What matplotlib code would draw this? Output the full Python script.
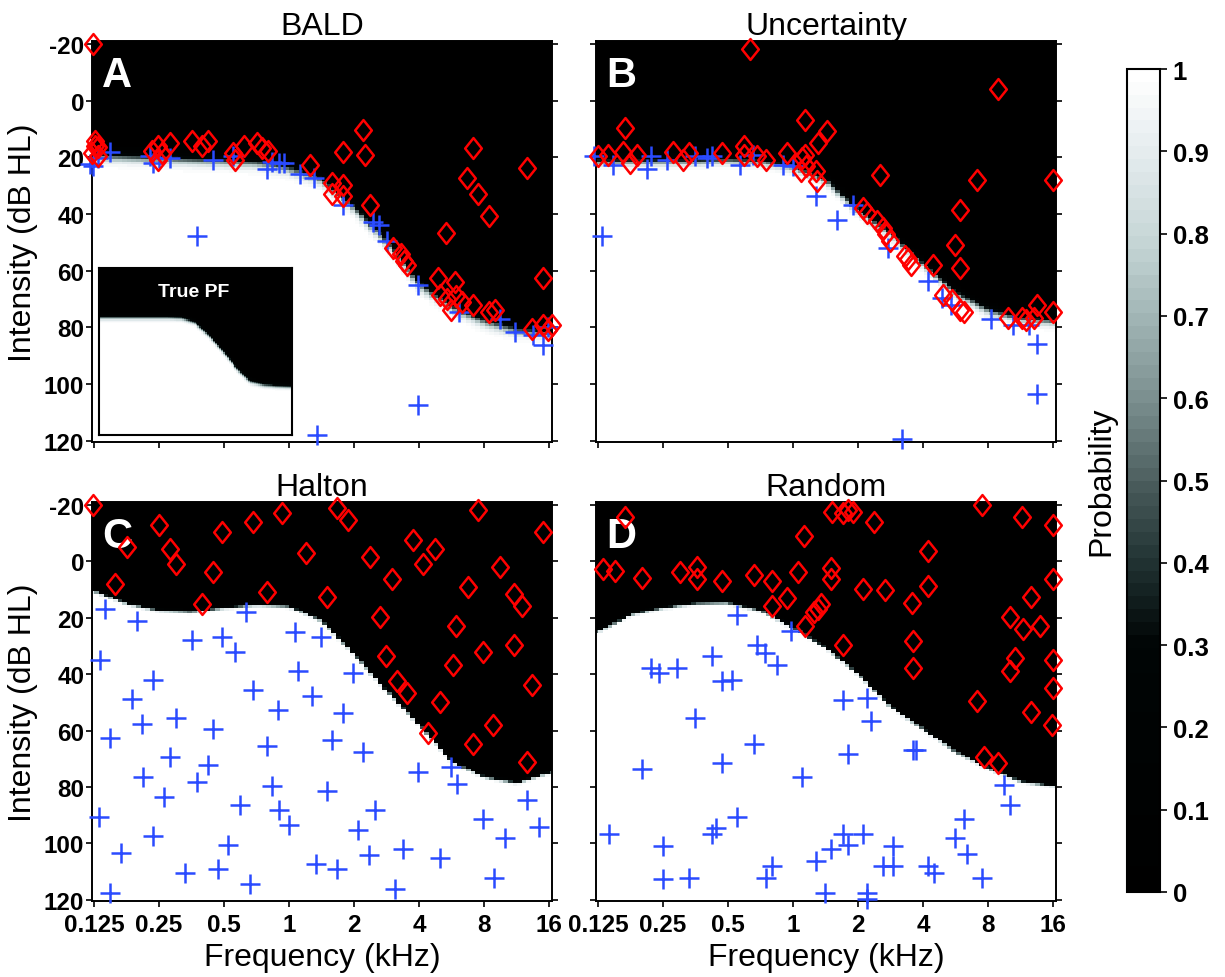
import numpy as np
import matplotlib
matplotlib.use("Agg")
import matplotlib.pyplot as plt
from matplotlib.colors import LinearSegmentedColormap, ListedColormap, Normalize
from matplotlib.path import Path

plt.rcParams['font.family'] = ['Liberation Sans', 'DejaVu Sans']
plt.rcParams['axes.unicode_minus'] = False

# ---------------- data ----------------
# threshold of the probability surface at half-octave knots (kHz -> dB HL)
knot_khz = [0.125, 0.177, 0.25, 0.354, 0.5, 0.707, 1, 1.41, 2, 2.83, 4, 5.66, 8, 11.3, 16]
thr_true = [21, 21, 21, 21, 21, 21, 21.5, 25.5, 36, 49.5, 63.5, 75, 78, 79, 79.5]
thr_bald = [19.5, 20, 20.5, 21, 21.5, 22, 24, 28, 38, 50, 65, 73, 78, 81, 82]
thr_unc = [21.5, 21.5, 21.5, 21.5, 21, 21.5, 23.5, 28, 39, 47, 58, 68, 74, 77, 78]
thr_halton = [10.5, 15, 17.5, 18, 16.5, 15.5, 16, 21, 33, 46, 58, 71, 76.5, 78.5, 75]
thr_random = [25, 19, 16.5, 15, 14.8, 17.5, 23.5, 30.5, 40, 51.5, 59.5, 67.5, 73.5, 78, 79.6]

# tested tones: heard (+) and not heard (diamond), (kHz, dB HL)
bald_heard = [(0.124, 23), (0.12, 22.5), (0.13, 20.4), (0.148, 18), (0.227, 19.6), (0.235, 22),
              (0.25, 20.4), (0.28, 20.4), (0.445, 21), (0.55, 19.6), (0.375, 47.7), (0.79, 24),
              (0.83, 21.5), (0.9, 22), (0.95, 22), (1.12, 26), (1.3, 27.4), (1.78, 36.8),
              (2.45, 43), (2.6, 44), (2.85, 49.5), (3.94, 65), (3.94, 107.4), (1.35, 118),
              (6.1, 74.7), (9.5, 77), (11.1, 81.7), (15, 86.3), (13.4, 82.5), (15.8, 80)]
bald_missed = [(0.124, -20), (0.127, 14.4), (0.131, 16.5), (0.122, 18.6), (0.13, 19.6), (0.126, 16.1),
               (0.231, 17.9), (0.248, 16.1), (0.258, 18.6), (0.248, 21), (0.281, 15.1), (0.356, 14.4),
               (0.395, 16.1), (0.42, 14.4), (0.55, 18.6), (0.56, 21), (0.62, 16.1), (0.71, 15),
               (0.75, 16.8), (0.8, 17.9), (1.25, 22.8), (1.58, 29), (1.78, 29.8), (1.58, 33),
               (1.78, 33.7), (1.78, 18), (2.2, 10.5), (2.25, 19.3), (2.37, 37), (3.03, 52),
               (3.3, 54), (3.4, 56.5), (3.5, 58), (5.33, 46.7), (6.68, 27.4), (7.1, 16.8),
               (7.5, 33), (8.45, 40.7), (12.6, 23.9), (15, 62.5), (4.9, 62.5), (5.0, 68.4),
               (5.4, 70), (5.6, 73.7), (5.87, 64), (5.9, 68.8), (6.3, 71), (7.1, 72),
               (8.4, 74.7), (9.0, 73.7), (13.3, 80.7), (15, 79.3), (16.5, 79.3), (15.8, 81)]

unc_heard = [(0.13, 47.7), (0.12, 19.6), (0.147, 22.8), (0.21, 24), (0.22, 19.6), (0.26, 21),
             (0.35, 19.6), (0.4, 20.4), (0.42, 19.6), (0.57, 22.8), (0.65, 19.3), (0.9, 22.8),
             (1.0, 23), (1.27, 33.7), (1.6, 42), (1.89, 36.8), (2.75, 52), (4.22, 63.5),
             (4.9, 69.5), (5.4, 72), (8.2, 77), (10.4, 79), (12.4, 79.3), (13.5, 86),
             (13.5, 103.5), (3.2, 119.3)]
unc_missed = [(0.63, -18.2), (0.167, 9.8), (0.125, 19.6), (0.139, 19.3), (0.163, 18), (0.175, 22),
              (0.19, 19.3), (0.278, 18), (0.31, 21), (0.33, 18.6), (0.47, 18.6), (0.59, 16),
              (0.59, 19.3), (0.68, 19.6), (0.75, 21), (0.94, 18.6), (1.1, 20.4), (1.13, 19.3),
              (1.09, 25), (1.15, 23), (1.27, 25), (1.29, 28.4), (1.14, 7), (1.3, 15), (1.43, 10.9),
              (2.53, 26.3), (2.1, 37.9), (2.2, 39.6), (2.45, 42.5), (2.6, 45), (2.7, 47),
              (2.8, 49.6), (3.3, 54.7), (3.4, 56), (4.45, 58), (5.9, 38.6), (5.6, 51), (5.9, 59),
              (7.1, 28), (8.9, -4.2), (16, 28), (3.5, 58), (4.96, 68.4), (5.45, 70.5),
              (5.9, 73.7), (6.2, 74.7), (9.9, 76.5), (11.5, 76.5), (12, 77.5), (13, 76.5),
              (13.5, 72), (16, 74.7)]

halton_heard = [(0.141, 16.8), (0.197, 21), (0.133, 35), (0.356, 28), (0.49, 26.7), (0.56, 32),
                (0.63, 17.9), (1.06, 24.9), (1.41, 26.7), (0.235, 42), (0.187, 48.8), (0.68, 45.6),
                (1.1, 39), (1.27, 47.7), (1.98, 39.6), (0.89, 52.6), (1.78, 53.7), (0.148, 62.5),
                (0.209, 57.5), (0.3, 55.4), (0.445, 59.6), (0.79, 65.3), (1.58, 63.5), (2.2, 67.7),
                (0.28, 69.5), (0.42, 72.3), (0.21, 76.5), (0.375, 78.2), (0.265, 83.5), (0.83, 79.6),
                (1.5, 81.4), (3.94, 74.7), (5.6, 73), (6.0, 78.9), (12.6, 84.6), (14.3, 94),
                (7.9, 91.2), (10.0, 98), (0.132, 90.5), (0.59, 86.3), (0.9, 88), (1.0, 93.3),
                (2.5, 88), (2.08, 95.4), (0.235, 97.2), (0.166, 103.5), (0.52, 100.4), (2.35, 104),
                (3.35, 102), (5.0, 105), (1.33, 107.4), (1.67, 109), (0.33, 110.5), (0.47, 109),
                (0.66, 114.4), (3.1, 116), (0.148, 117.5), (8.9, 112.3)]
halton_missed = [(0.124, -20), (0.177, -4.9), (0.25, -13), (0.28, -4.2), (0.3, 1), (0.156, 8),
                 (0.445, 3.9), (0.49, -10.2), (0.395, 15), (0.68, -14), (0.93, -17), (0.79, 11),
                 (1.2, -3), (1.5, 12.6), (1.67, -19), (1.87, -14.7), (2.37, -1.4), (3.0, 6.3),
                 (2.64, 19.6), (3.75, -7.7), (4.74, -4.2), (4.18, 1), (7.5, -18), (9.5, 2.1),
                 (6.7, 9), (11, 11.6), (11.9, 16), (15, -10.5), (5.9, 22.8), (7.9, 32), (11, 29.8),
                 (5.7, 36.8), (2.81, 33.7), (3.16, 42.5), (3.52, 46.7), (5.0, 50), (13.3, 44),
                 (4.4, 60.7), (7.1, 64.9), (8.8, 57.9), (12.6, 71.2)]

random_heard = [(0.55, 19), (0.98, 24.6), (0.68, 29.5), (0.74, 32.6), (0.84, 36.8), (0.42, 33.7),
                (0.22, 37.9), (0.24, 39.6), (0.29, 37.9), (0.47, 42.5), (0.52, 42), (1.7, 49),
                (2.2, 48.4), (2.3, 56.5), (0.35, 55.4), (0.66, 64.9), (1.8, 68.4), (3.6, 67),
                (3.7, 67), (0.2, 73.7), (0.47, 71.6), (1.1, 76.5), (9.5, 79.3), (10.1, 86.3),
                (0.55, 90.5), (0.14, 96.5), (0.42, 96.5), (0.44, 94.7), (1.7, 96.5), (2.1, 96.5),
                (1.8, 100.4), (6.2, 91.2), (5.6, 98), (6.4, 103.9), (0.25, 101), (2.9, 101),
                (1.5, 102), (1.27, 106.3), (0.8, 108), (0.75, 112.3), (2.6, 108), (2.9, 108),
                (4.2, 108), (4.5, 110.5), (7.5, 112.3), (0.25, 112.6), (0.33, 112.3), (1.4, 117.5),
                (2.2, 117.5), (2.2, 119.6)]
random_missed = [(0.167, -15.8), (0.132, 2.8), (0.15, 3.5), (0.2, 6), (0.3, 3.9), (0.36, 2.1),
                 (0.36, 6.3), (0.47, 7), (0.66, 4.9), (0.8, 7), (1.05, 3.9), (1.12, -8.8),
                 (1.5, 2.5), (1.5, 6.3), (1.52, -17.5), (1.7, -17), (1.8, -18), (1.9, -17.5),
                 (2.37, -14), (0.94, 13), (0.8, 16), (1.25, 17.9), (1.3, 16.8), (1.35, 15),
                 (1.13, 22.8), (2.1, 9.8), (2.67, 10.2), (1.7, 29.8), (3.55, 14.7), (3.6, 28.4),
                 (3.6, 37.9), (4.22, -3.5), (4.22, 8.8), (7.5, -20), (11.4, -15.8), (16, -13),
                 (10.1, 19.6), (11.6, 23.9), (12.6, 12.6), (13.8, 22.8), (16, 6.3), (10.6, 34.4),
                 (10.1, 39), (16, 45), (7.1, 49.5), (12.6, 53.5), (15.8, 58), (7.6, 69.5),
                 (8.9, 71.6), (16, 35)]

titles = ['BALD', 'Uncertainty', 'Halton', 'Random']
letters = ['A', 'B', 'C', 'D']
xtick_labels = ['0.125', '0.25', '0.5', '1', '2', '4', '8', '16']
ytick_values = [-20, 0, 20, 40, 60, 80, 100, 120]
cbar_ticks = [0, 0.1, 0.2, 0.3, 0.4, 0.5, 0.6, 0.7, 0.8, 0.9, 1]

# ---------------- style ----------------
W, H = 1225, 978
BLUE = '#2a4bff'
RED = '#ff0000'
XLIM = (-3.03, 4.04)
YLIM = (120.4, -21)
TICK_FS = 17.5

# black up to 0.3, then grey-teal ramp to white, banded like the original
ramp = LinearSegmentedColormap.from_list('pf', [
    (0.0, (0, 0, 0)), (0.3, (0.0, 0.02, 0.02)), (0.4, (0.13, 0.2, 0.2)),
    (0.5, (0.3, 0.37, 0.37)), (0.6, (0.48, 0.56, 0.56)), (0.7, (0.63, 0.71, 0.71)),
    (0.8, (0.78, 0.84, 0.84)), (0.9, (0.89, 0.92, 0.93)), (1.0, (1.0, 1.0, 1.0))])
cmap = ListedColormap(ramp(np.linspace(0, 1, 64)))

diamond = Path([(0, 1), (0.8, 0), (0, -1), (-0.8, 0), (0, 1)],
               [Path.MOVETO, Path.LINETO, Path.LINETO, Path.LINETO, Path.CLOSEPOLY])

lf = np.linspace(XLIM[0], XLIM[1], 100)
db = np.arange(-21, 121.5, 1.0)


def surface(ax, thr, width):
    T = np.interp(lf, np.log2(knot_khz), thr)
    P = 1.0 / (1.0 + np.exp(-(db[:, None] - T[None, :]) / width))
    ax.pcolormesh(lf, db, P, cmap=cmap, vmin=0, vmax=1, shading='nearest', rasterized=True)
    ax.set_xlim(XLIM)
    ax.set_ylim(YLIM)


fig = plt.figure(figsize=(W / 100, H / 100), dpi=100)

boxes = [(92, 42, 552, 443), (596, 42, 1056, 443), (92, 503, 552, 902), (596, 503, 1056, 902)]
panels = [(thr_bald, 1.0, bald_heard, bald_missed),
          (thr_unc, 0.8, unc_heard, unc_missed),
          (thr_halton, 0.25, halton_heard, halton_missed),
          (thr_random, 0.25, random_heard, random_missed)]

for i, ((x0, y0, x1, y1), (thr, wid, heard, missed)) in enumerate(zip(boxes, panels)):
    ax = fig.add_axes([x0 / W, 1 - y1 / H, (x1 - x0) / W, (y1 - y0) / H])
    surface(ax, thr, wid)

    hf, hd = zip(*heard)
    ax.plot(np.log2(hf), hd, ls='none', marker='+', ms=15, mew=1.8, color=BLUE,
            clip_on=False, zorder=4)
    mf, md = zip(*missed)
    ax.plot(np.log2(mf), md, ls='none', marker=diamond, ms=15, mew=1.8, mfc='none',
            mec=RED, clip_on=False, zorder=5)

    ax.text(0.022, 0.888, letters[i], transform=ax.transAxes, color='white',
            fontsize=30, fontweight='bold', zorder=3)
    ax.set_title(titles[i], fontsize=23, pad=4)

    ax.set_xticks(range(-3, 5))
    ax.set_xticklabels(xtick_labels, fontweight='bold')
    ax.set_yticks(ytick_values)
    ax.set_yticklabels([str(v) for v in ytick_values], fontweight='bold')
    ax.tick_params(direction='out', length=4, width=1.2, right=True, labelsize=TICK_FS)
    ax.tick_params(axis='x', pad=5)
    ax.tick_params(axis='y', pad=1.5)
    for sp in ax.spines.values():
        sp.set_linewidth(1.4)
    if i < 2:
        ax.tick_params(labelbottom=False)
    else:
        ax.set_xlabel('Frequency (kHz)', fontsize=23, labelpad=4)
    if i % 2 == 1:
        ax.tick_params(labelleft=False)
    else:
        ax.set_ylabel('Intensity (dB HL)', fontsize=23, labelpad=4)

# inset with the true psychometric field
ins = fig.add_axes([99 / W, 1 - 436 / H, 193 / W, 167 / H])
surface(ins, thr_true, 1.0)
ins.set_xticks([])
ins.set_yticks([])
for sp in ins.spines.values():
    sp.set_linewidth(1.5)
ins.text(0.49, 0.832, 'True PF', transform=ins.transAxes, color='white',
         fontsize=14, fontweight='bold', ha='center')

# colorbar
cax = fig.add_axes([1127 / W, 1 - 893 / H, 33 / W, 823 / H])
sm = matplotlib.cm.ScalarMappable(norm=Normalize(0, 1), cmap=cmap)
cb = fig.colorbar(sm, cax=cax, ticks=cbar_ticks)
cb.ax.set_yticklabels(['0', '0.1', '0.2', '0.3', '0.4', '0.5', '0.6', '0.7', '0.8', '0.9', '1'],
                      fontweight='bold')
cax.tick_params(length=5, width=1.2, labelsize=TICK_FS + 1, pad=4)
cb.outline.set_linewidth(1.5)
cb.set_label('Probability', fontsize=23, labelpad=8)
cax.yaxis.set_label_position('left')

fig.savefig('out.png', dpi=100)
